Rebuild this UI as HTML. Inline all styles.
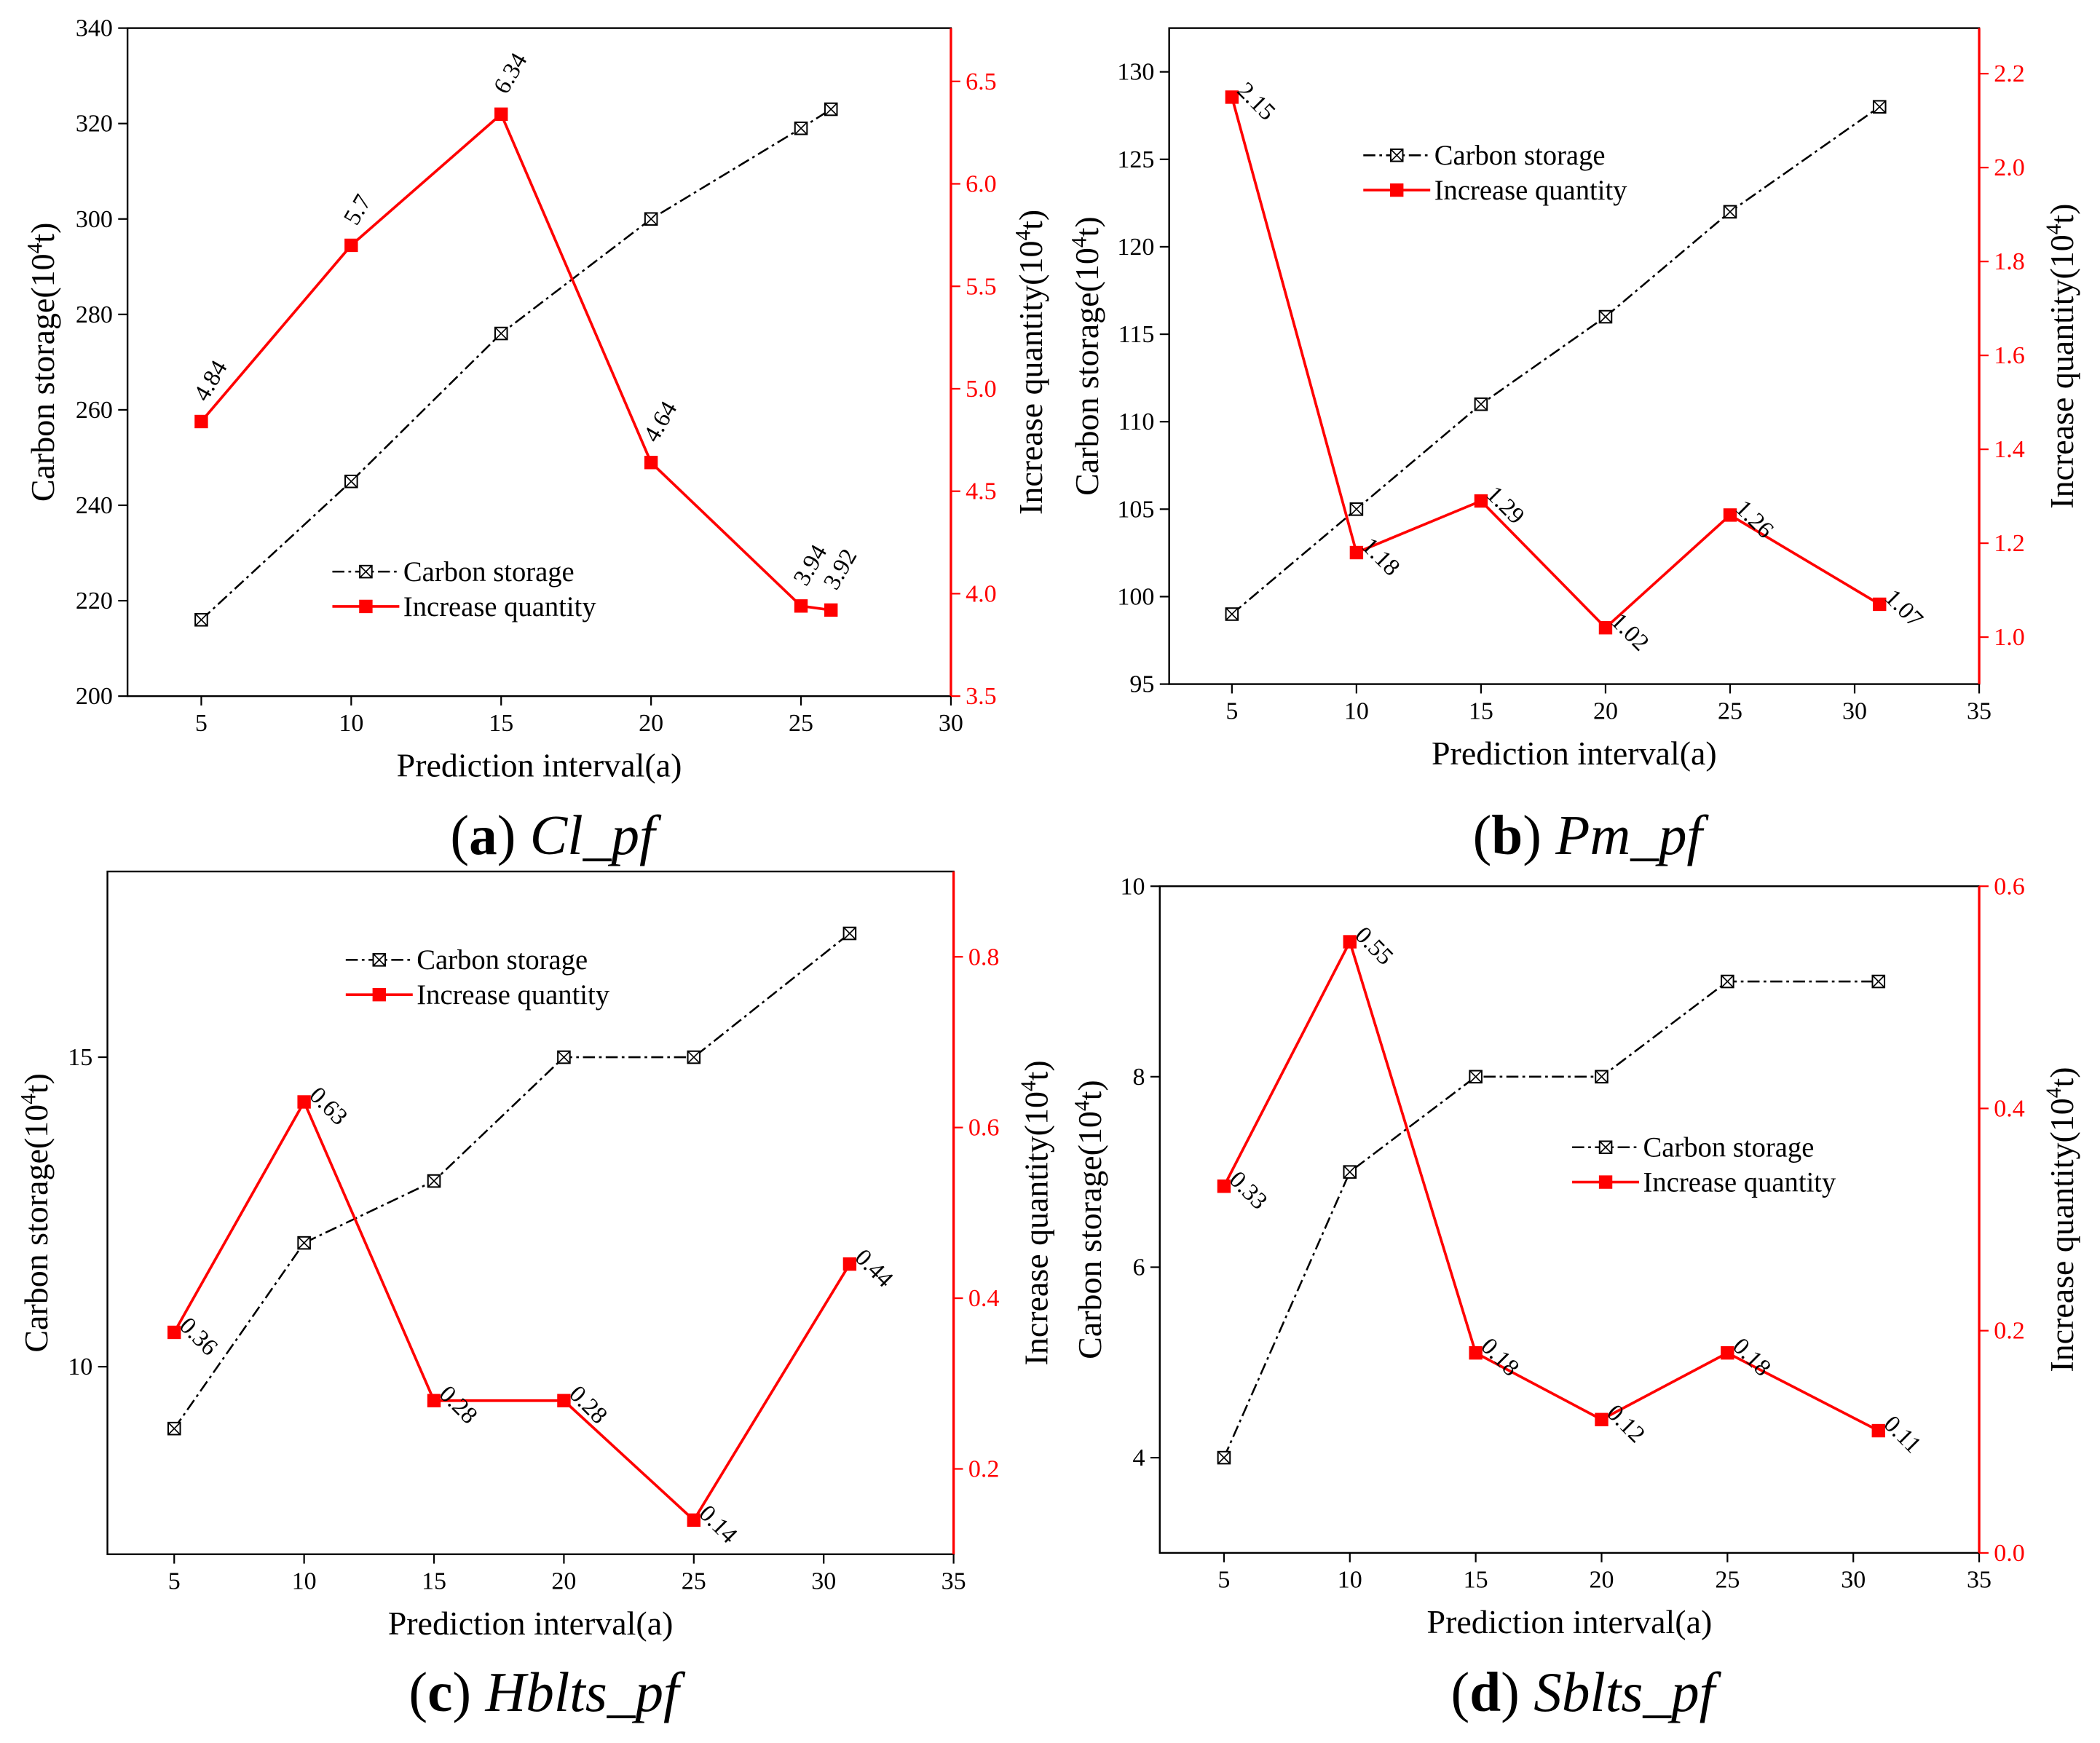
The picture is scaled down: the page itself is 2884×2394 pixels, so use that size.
<!DOCTYPE html>
<html><head><meta charset="utf-8"><style>
html,body{margin:0;padding:0;background:#fff;}
svg{display:block;font-family:"Liberation Serif",serif;}
</style></head><body>
<svg id="s" width="2884" height="2394" viewBox="0 0 1568 1302" xmlns="http://www.w3.org/2000/svg"></svg>
<script>
// Panel data
const xA = [5,10,15,20,25,26];
const carbonA = [216,245,276,300,319,323];
const incA = [4.84,5.7,6.34,4.64,3.94,3.92];
const incLabelsA = ["4.84","5.7","6.34","4.64","3.94","3.92"];
const xTicksA = [5,10,15,20,25,30];
const leftTicksA = [200,220,240,260,280,300,320,340];
const rightTicksA = ["3.5","4.0","4.5","5.0","5.5","6.0","6.5"];

const xB = [5,10,15,20,25,31];
const carbonB = [99,105,111,116,122,128];
const incB = [2.15,1.18,1.29,1.02,1.26,1.07];
const incLabelsB = ["2.15","1.18","1.29","1.02","1.26","1.07"];
const xTicksB = [5,10,15,20,25,30,35];
const leftTicksB = [95,100,105,110,115,120,125,130];
const rightTicksB = ["1.0","1.2","1.4","1.6","1.8","2.0","2.2"];

const xC = [5,10,15,20,25,31];
const carbonC = [9,12,13,15,15,17];
const incC = [0.36,0.63,0.28,0.28,0.14,0.44];
const incLabelsC = ["0.36","0.63","0.28","0.28","0.14","0.44"];
const xTicksC = [5,10,15,20,25,30,35];
const leftTicksC = [10,15];
const rightTicksC = ["0.2","0.4","0.6","0.8"];

const xD = [5,10,15,20,25,31];
const carbonD = [4,7,8,8,9,9];
const incD = [0.33,0.55,0.18,0.12,0.18,0.11];
const incLabelsD = ["0.33","0.55","0.18","0.12","0.18","0.11"];
const xTicksD = [5,10,15,20,25,30,35];
const leftTicksD = [4,6,8,10];
const rightTicksD = ["0.0","0.2","0.4","0.6"];

const svg = document.getElementById('s');
const NS = 'http://www.w3.org/2000/svg';
function mk(tag, attrs, parent, text){
  const e = document.createElementNS(NS, tag);
  for (const k in attrs) e.setAttribute(k, attrs[k]);
  if (text !== undefined) e.textContent = text;
  (parent||svg).appendChild(e);
  return e;
}

function panel(p){
  const g = mk('g', {});
  
  
  const sx = v => p.x0 + (v - p.xmin) / (p.xmax - p.xmin) * (p.x1 - p.x0);
  const sy = v => p.y1 - (v - p.lmin) / (p.lmax - p.lmin) * (p.y1 - p.y0);
  const sr = v => p.y1 - (v - p.rmin) / (p.rmax - p.rmin) * (p.y1 - p.y0);
  const box = mk('rect', {x:p.x0, y:p.y0, width:p.x1-p.x0, height:p.y1-p.y0, fill:'none', stroke:'#000', 'stroke-width':1.3}, g);
  
  
  const ra = mk('line', {x1:p.x1, y1:p.y0, x2:p.x1, y2:p.y1, stroke:'#f00', 'stroke-width':1.8}, g);
  
  
  p.xt.forEach(t => {
    const x = sx(t);
    mk('line', {x1:x, y1:p.y1, x2:x, y2:p.y1+7, stroke:'#000', 'stroke-width':1.2}, g);
    const tl = mk('text', {x:x, y:p.y1+26, 'text-anchor':'middle', 'font-size':18.5}, g, String(t));
    
    
  });
  p.lt.forEach(t => {
    const y = sy(t);
    mk('line', {x1:p.x0, y1:y, x2:p.x0-7, y2:y, stroke:'#000', 'stroke-width':1.2}, g);
    const tl = mk('text', {x:p.x0-11, y:y+6, 'text-anchor':'end', 'font-size':18.5}, g, String(t));
    
    
  });
  p.rt.forEach(t => {
    const y = sr(parseFloat(t));
    mk('line', {x1:p.x1, y1:y, x2:p.x1+7, y2:y, stroke:'#f00', 'stroke-width':1.2}, g);
    const tl = mk('text', {x:p.x1+11, y:y+6, 'text-anchor':'start', 'font-size':18.5, fill:'#f00'}, g, t);
    
    
  });
  const cx = (p.x0+p.x1)/2, cy = (p.y0+p.y1)/2;
  const xtit = mk('text', {x:cx, y:p.y1+60, 'text-anchor':'middle', 'font-size':25}, g, 'Prediction interval(a)');
  
  
  const lt = mk('text', {x:0, y:0, 'text-anchor':'middle', 'font-size':25, transform:`translate(${p.ltx},${cy}) rotate(-90)`}, g);
  
  
  lt.innerHTML = 'Carbon storage(10<tspan dy="-9" font-size="16">4</tspan><tspan dy="9">t)</tspan>';
  const rt = mk('text', {x:0, y:0, 'text-anchor':'middle', 'font-size':25, transform:`translate(${p.rtx},${cy}) rotate(-90)`}, g);
  
  
  rt.innerHTML = 'Increase quantity(10<tspan dy="-9" font-size="16">4</tspan><tspan dy="9">t)</tspan>';
  const cpts = p.xs.map((x,i)=>sx(x)+','+sy(p.c[i])).join(' ');
  const cl = mk('polyline', {points:cpts, fill:'none', stroke:'#000', 'stroke-width':1.4, 'stroke-dasharray':'9 3 2 3'}, g);
  
  
  p.xs.forEach((x,i)=>{
    const X = sx(x), Y = sy(p.c[i]);
    const m = mk('g', {}, g);
    
    
    mk('rect', {x:X-4.5, y:Y-4.5, width:9, height:9, fill:'#fff', stroke:'#000', 'stroke-width':1.1}, m);
    mk('path', {d:`M${X-4.5},${Y-4.5}L${X+4.5},${Y+4.5}M${X+4.5},${Y-4.5}L${X-4.5},${Y+4.5}`, stroke:'#000', 'stroke-width':0.9}, m);
  });
  const ipts = p.xs.map((x,i)=>sx(x)+','+sr(p.inc[i])).join(' ');
  const il = mk('polyline', {points:ipts, fill:'none', stroke:'#f00', 'stroke-width':2}, g);
  
  
  p.xs.forEach((x,i)=>{
    const X = sx(x), Y = sr(p.inc[i]);
    const m = mk('rect', {x:X-5, y:Y-5, width:10, height:10, fill:'#f00'}, g);
    
    
    let tr;
    if (p.labUp) tr = `translate(${X+4},${Y-14}) rotate(-60)`;
    else tr = `translate(${X+3},${Y-4}) rotate(45)`;
    const lab = mk('text', {x:0, y:0, 'font-size':18, transform:tr}, g, p.labs[i]);
    
    
  });
  const lg = mk('g', {}, g);
  
  
  const lx = p.lgx, ly = p.lgy;
  mk('line', {x1:lx, y1:ly, x2:lx+50, y2:ly, stroke:'#000', 'stroke-width':1.4, 'stroke-dasharray':'9 3 2 3'}, lg);
  mk('rect', {x:lx+20.5, y:ly-4.5, width:9, height:9, fill:'#fff', stroke:'#000', 'stroke-width':1.1}, lg);
  mk('path', {d:`M${lx+20.5},${ly-4.5}L${lx+29.5},${ly+4.5}M${lx+29.5},${ly-4.5}L${lx+20.5},${ly+4.5}`, stroke:'#000', 'stroke-width':0.9}, lg);
  mk('text', {x:lx+53, y:ly+7, 'font-size':21}, lg, 'Carbon storage');
  const ly2 = ly + 26;
  mk('line', {x1:lx, y1:ly2, x2:lx+50, y2:ly2, stroke:'#f00', 'stroke-width':2}, lg);
  mk('rect', {x:lx+20, y:ly2-5, width:10, height:10, fill:'#f00'}, lg);
  mk('text', {x:lx+53, y:ly2+7, 'font-size':21}, lg, 'Increase quantity');
  const cap = mk('text', {x:cx+10, y:p.capy, 'text-anchor':'middle', 'font-size':42}, g);
  
  
  cap.innerHTML = `(<tspan font-weight="bold">${p.id}</tspan>) <tspan font-style="italic">${p.name}</tspan>`;
}

panel({id:'a', name:'Cl_pf', x0:95, x1:710, y0:21, y1:520, xmin:2.54, xmax:30, lmin:200, lmax:340, rmin:3.5, rmax:6.76,
  xs:xA, c:carbonA, inc:incA, labs:incLabelsA, xt:xTicksA, lt:leftTicksA, rt:rightTicksA,
  ltx:40, rtx:778, lgx:248, lgy:427, capy:638, labUp:true});
panel({id:'b', name:'Pm_pf', x0:873, x1:1478, y0:21, y1:511, xmin:2.48, xmax:35, lmin:95, lmax:132.5, rmin:0.9, rmax:2.297,
  xs:xB, c:carbonB, inc:incB, labs:incLabelsB, xt:xTicksB, lt:leftTicksB, rt:rightTicksB,
  ltx:820, rtx:1548, lgx:1018, lgy:116, capy:638, labUp:false});
panel({id:'c', name:'Hblts_pf', x0:80, x1:712, y0:651, y1:1161, xmin:2.43, xmax:35, lmin:6.97, lmax:18.0, rmin:0.1, rmax:0.9,
  xs:xC, c:carbonC, inc:incC, labs:incLabelsC, xt:xTicksC, lt:leftTicksC, rt:rightTicksC,
  ltx:35, rtx:782, lgx:258, lgy:717, capy:1278, labUp:false});
panel({id:'d', name:'Sblts_pf', x0:866, x1:1478, y0:662, y1:1160, xmin:2.45, xmax:35, lmin:3, lmax:10, rmin:0, rmax:0.6,
  xs:xD, c:carbonD, inc:incD, labs:incLabelsD, xt:xTicksD, lt:leftTicksD, rt:rightTicksD,
  ltx:822, rtx:1548, lgx:1174, lgy:857, capy:1278, labUp:false});
</script>
</body></html>
